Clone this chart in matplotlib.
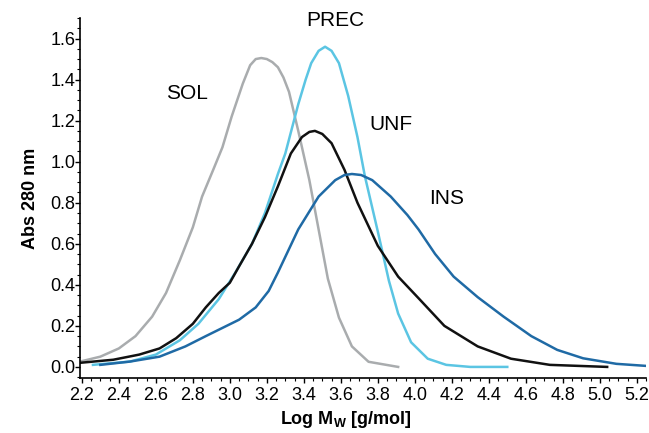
import matplotlib
matplotlib.use("Agg")
import matplotlib.pyplot as plt
from matplotlib.ticker import MultipleLocator

plt.rcParams['font.family'] = ['Liberation Sans', 'DejaVu Sans']

# Curves (x = Log Mw, y = Abs 280 nm)
sol_x = [2.19, 2.30, 2.40, 2.49, 2.58, 2.655, 2.73, 2.80, 2.85, 2.91, 2.96, 3.01, 3.07, 3.11,
         3.14, 3.17, 3.20, 3.23, 3.26, 3.29, 3.32, 3.37, 3.43, 3.48, 3.53, 3.59, 3.66, 3.75, 3.91]
sol_y = [0.026, 0.05, 0.09, 0.15, 0.245, 0.36, 0.52, 0.68, 0.83, 0.96, 1.07, 1.22, 1.38, 1.47,
         1.50, 1.505, 1.50, 1.485, 1.46, 1.41, 1.34, 1.15, 0.91, 0.67, 0.43, 0.24, 0.10, 0.025, 0.0]

prec_x = [2.26, 2.46, 2.60, 2.73, 2.83, 2.94, 3.03, 3.12, 3.19, 3.26, 3.30, 3.37, 3.41, 3.44,
          3.48, 3.515, 3.55, 3.59, 3.64, 3.69, 3.73, 3.80, 3.86, 3.91, 3.98, 4.07, 4.17, 4.30, 4.50]
prec_y = [0.01, 0.026, 0.06, 0.13, 0.21, 0.33, 0.46, 0.60, 0.75, 0.94, 1.04, 1.28, 1.40, 1.48,
          1.54, 1.56, 1.54, 1.48, 1.32, 1.12, 0.93, 0.66, 0.42, 0.26, 0.12, 0.04, 0.01, 0.0, 0.0]

unf_x = [2.19, 2.37, 2.51, 2.62, 2.71, 2.80, 2.87, 2.94, 3.00, 3.05, 3.12, 3.19, 3.26, 3.33,
         3.39, 3.43, 3.46, 3.50, 3.55, 3.62, 3.69, 3.80, 3.91, 4.02, 4.16, 4.34, 4.52, 4.73, 5.04]
unf_y = [0.02, 0.035, 0.06, 0.09, 0.14, 0.21, 0.29, 0.36, 0.41, 0.49, 0.60, 0.73, 0.88, 1.04,
         1.12, 1.145, 1.15, 1.135, 1.09, 0.96, 0.80, 0.59, 0.44, 0.335, 0.20, 0.10, 0.04, 0.01, 0.0]

ins_x = [2.30, 2.46, 2.62, 2.76, 2.87, 2.96, 3.05, 3.14, 3.21, 3.26, 3.37, 3.48, 3.57, 3.62,
         3.66, 3.71, 3.77, 3.87, 3.96, 4.02, 4.11, 4.21, 4.34, 4.48, 4.63, 4.77, 4.91, 5.09, 5.25]
ins_y = [0.01, 0.026, 0.05, 0.10, 0.15, 0.19, 0.23, 0.29, 0.37, 0.46, 0.67, 0.83, 0.91, 0.935,
         0.94, 0.935, 0.91, 0.83, 0.74, 0.67, 0.55, 0.44, 0.34, 0.245, 0.15, 0.083, 0.042, 0.015, 0.005]

labels = ["SOL", "PREC", "UNF", "INS"]
label_pos = [(2.77, 1.33), (3.57, 1.69), (3.87, 1.18), (4.17, 0.82)]

fig = plt.figure(figsize=(6.49, 4.33), dpi=100)
ax = fig.add_axes([80 / 649, 1 - 378 / 433, 566 / 649, 360 / 433])

lw = 1.8
ax.plot(sol_x, sol_y, color="#a9acae", lw=lw, solid_joinstyle="round")
ax.plot(prec_x, prec_y, color="#5bc5e3", lw=lw, solid_joinstyle="round")
ax.plot(unf_x, unf_y, color="#111111", lw=lw, solid_joinstyle="round")
ax.plot(ins_x, ins_y, color="#1f6aa5", lw=lw, solid_joinstyle="round")

for txt, (tx, ty) in zip(labels, label_pos):
    ax.text(tx, ty, txt, fontsize=15, ha="center", va="center", clip_on=False)

ax.set_xlim(2.19, 5.25)
ax.set_ylim(-0.054, 1.70)
ax.xaxis.set_minor_locator(MultipleLocator(0.05))
ax.yaxis.set_minor_locator(MultipleLocator(0.05))
ax.set_xticks([2.2 + 0.2 * i for i in range(16)])
ax.set_xticklabels([f"{2.2 + 0.2 * i:.1f}" for i in range(16)])
ax.set_yticks([0.2 * i for i in range(9)])
ax.set_yticklabels([f"{0.2 * i:.1f}" for i in range(9)])

ax.tick_params(which="major", direction="out", length=3.5, width=1, labelsize=13)
ax.tick_params(axis="y", which="major", pad=0)
ax.tick_params(axis="x", which="major", pad=3)
ax.tick_params(which="minor", direction="out", length=2, width=0.8)

ax.spines["top"].set_visible(False)
ax.spines["right"].set_visible(False)
ax.spines["left"].set_linewidth(1.2)
ax.spines["bottom"].set_linewidth(1.2)

ax.set_xlabel(r"Log M$_\mathregular{W}$ [g/mol]", fontsize=13, fontweight="bold")
ax.xaxis.set_label_coords(0.47, -0.085)
ax.set_ylabel("Abs 280 nm", fontsize=13, fontweight="bold", labelpad=8)

fig.savefig("out.png", dpi=100)
